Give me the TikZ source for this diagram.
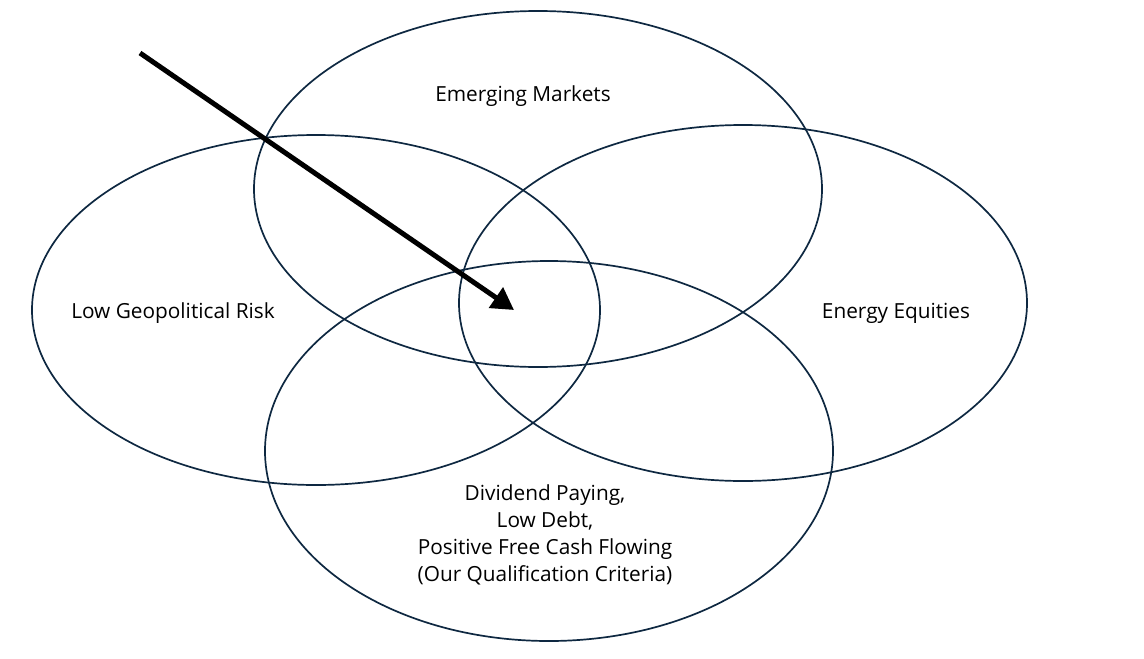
\documentclass[tikz,border=0pt]{standalone}
\usepackage{fontspec}
\setmainfont{Open Sans}
\usetikzlibrary{arrows.meta}
\definecolor{navy}{HTML}{0E2841}
\begin{document}
\begin{tikzpicture}[x=1pt,y=-1pt,
  venn/.style={draw=navy,line width=1.7pt},
  lbl/.style={font=\fontsize{20.8}{27}\selectfont,align=center,inner sep=0pt,text=black}]
\useasboundingbox (0,0) rectangle (1144,659);
\draw[venn] (316,310) ellipse [x radius=284,y radius=175];
\draw[venn] (538,189) ellipse [x radius=284,y radius=178];
\draw[venn] (743,303) ellipse [x radius=284,y radius=178];
\draw[venn] (549,451) ellipse [x radius=284,y radius=190];
\node[lbl] (em) at (523,96) {Emerging Markets};
\node[lbl] (geo) at (173,313) {Low Geopolitical Risk};
\node[lbl] (en) at (896,313) {Energy Equities};
\node[lbl] (div) at (545,535) {Dividend Paying,\\Low Debt,\\Positive Free Cash Flowing\\(Our Qualification Criteria)};
\coordinate (s) at (140,53);
\coordinate (t) at (514,310);
\draw[line width=5pt,-{Triangle[length=22pt,width=24pt]}] (s) -- (t);
\end{tikzpicture}
\end{document}
